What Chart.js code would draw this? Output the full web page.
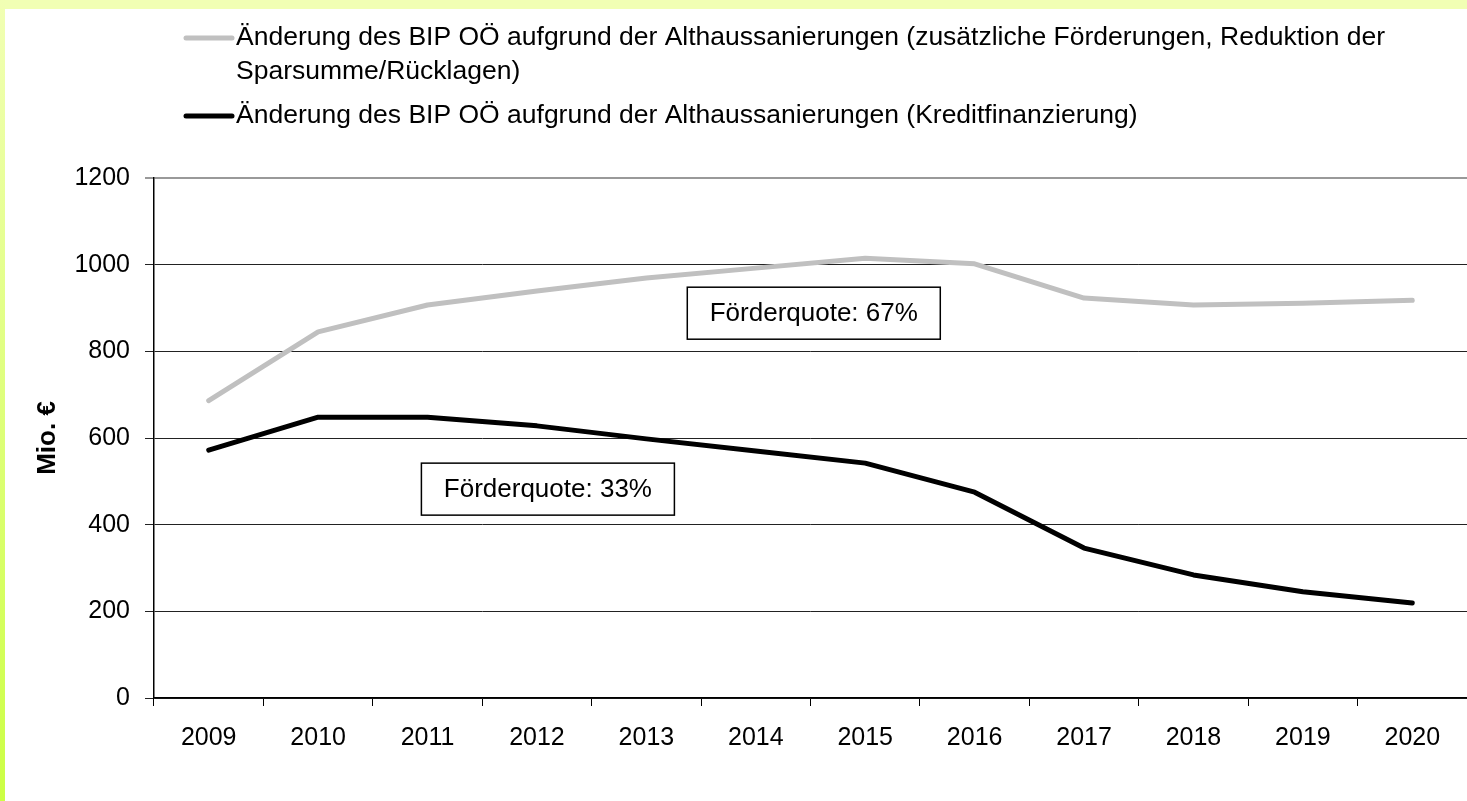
<!DOCTYPE html>
<html>
<head>
<meta charset="utf-8">
<title>BIP OÖ – Althaussanierungen</title>
<script src="https://cdn.jsdelivr.net/npm/chart.js@4.4.0/dist/chart.umd.min.js"></script>
<style>
    html, body { margin: 0; padding: 0; width: 1467px; height: 801px; overflow: hidden; background: #fff; }
    .band-top { position: absolute; left: 0; top: 0; width: 1467px; height: 9px; background: #f1ffb4; }
    .band-left { position: absolute; left: 0; top: 0; width: 5px; height: 801px; background: linear-gradient(#f1ffb4, #ccff44); }
    .wrap { position: absolute; left: 0; top: 0; width: 1467px; height: 801px; }
</style>
</head>
<body>
<div class="band-top"></div>
<div class="band-left"></div>
<div class="wrap"><canvas id="chart"></canvas></div>
<script>
    "use strict";

    // Data
    const years = ["2009", "2010", "2011", "2012", "2013", "2014", "2015", "2016", "2017", "2018", "2019", "2020"];
    const bipFoerderung = [686, 845, 907, 939, 969, 992, 1015, 1002, 923, 907, 911, 918];
    const bipKredit = [572, 648, 648, 628, 598, 570, 542, 475, 346, 284, 245, 219];
    const yTicks = [0, 200, 400, 600, 800, 1000, 1200];
    const seriesLabels = [
        "Änderung des BIP OÖ aufgrund der Althaussanierungen (zusätzliche Förderungen, Reduktion der Sparsumme/Rücklagen)",
        "Änderung des BIP OÖ aufgrund der Althaussanierungen (Kreditfinanzierung)",
    ];
    const yTitle = "Mio. €";
    // notes placed in data units (category index, value)
    const notes = [
        { text: "Förderquote: 67%", x: 5.53, y: 888 },
        { text: "Förderquote: 33%", x: 3.1, y: 482 },
    ];

    const FONT = "'Liberation Sans', Arial, sans-serif";

    // legend drawn at the top, with wrapping
    const topLegend = {
        id: "topLegend",
        afterDraw(chart) {
            const ctx = chart.ctx;
            ctx.save();
            ctx.font = "26.5px " + FONT;
            ctx.textBaseline = "middle";
            ctx.fillStyle = "#000";
            const textX = 236;
            const maxW = 1190;
            let y = 38;
            chart.data.datasets.forEach((ds) => {
                ctx.strokeStyle = ds.borderColor;
                ctx.lineWidth = 5;
                ctx.lineCap = "round";
                ctx.beginPath();
                ctx.moveTo(186, y);
                ctx.lineTo(232, y);
                ctx.stroke();
                const words = ds.label.split(" ");
                let line = "";
                const lines = [];
                words.forEach((w) => {
                    const test = line ? line + " " + w : w;
                    if (ctx.measureText(test).width > maxW && line) {
                        lines.push(line);
                        line = w;
                    } else {
                        line = test;
                    }
                });
                lines.push(line);
                lines.forEach((l, i) => {
                    ctx.fillText(l, textX, y + i * 34);
                });
                y += (lines.length - 1) * 34 + 44;
            });
            ctx.restore();
        },
    };

    // boxed notes
    const boxNotes = {
        id: "boxNotes",
        afterDatasetsDraw(chart) {
            const ctx = chart.ctx;
            const xs = chart.scales.x;
            const ys = chart.scales.y;
            ctx.save();
            ctx.font = "26px " + FONT;
            ctx.textAlign = "center";
            ctx.textBaseline = "middle";
            notes.forEach((n) => {
                const cx = xs.getPixelForValue(n.x);
                const cy = ys.getPixelForValue(n.y);
                const w = 253, h = 52;
                ctx.fillStyle = "#fff";
                ctx.fillRect(cx - w / 2, cy - h / 2, w, h);
                ctx.strokeStyle = "#000";
                ctx.lineWidth = 1.5;
                ctx.strokeRect(cx - w / 2, cy - h / 2, w, h);
                ctx.fillStyle = "#000";
                ctx.fillText(n.text, cx, cy + 1);
            });
            ctx.restore();
        },
    };

    const ctx = document.getElementById("chart").getContext("2d");

    new Chart(ctx, {
        type: "line",
        data: {
            labels: years,
            datasets: [
                {
                    label: seriesLabels[0],
                    data: bipFoerderung,
                    borderColor: "#c0c0c0",
                    borderWidth: 5,
                    borderCapStyle: "round",
                    borderJoinStyle: "round",
                    pointRadius: 0,
                    tension: 0,
                },
                {
                    label: seriesLabels[1],
                    data: bipKredit,
                    borderColor: "#000",
                    borderWidth: 5,
                    borderCapStyle: "round",
                    borderJoinStyle: "round",
                    pointRadius: 0,
                    tension: 0,
                },
            ],
        },
        options: {
            responsive: true,
            maintainAspectRatio: false,
            animation: false,
            layout: {
                padding: { top: 178, left: 0, right: 0, bottom: 0 },
            },
            plugins: {
                legend: { display: false },
                tooltip: { enabled: false },
            },
            scales: {
                x: {
                    offset: true,
                    afterFit: (scale) => { scale.height = 103; },
                    grid: {
                        offset: true,
                        drawOnChartArea: false,
                        drawTicks: true,
                        tickLength: 8,
                        color: "#000",
                    },
                    border: { display: true, color: "#000", width: 1.5 },
                    ticks: {
                        color: "#000",
                        padding: 17,
                        maxRotation: 0,
                        autoSkip: false,
                        font: { family: FONT, size: 25 },
                    },
                },
                y: {
                    min: yTicks[0],
                    max: yTicks[yTicks.length - 1],
                    afterFit: (scale) => { scale.width = 154; },
                    afterBuildTicks: (scale) => {
                        scale.ticks = yTicks.map((v) => ({ value: v }));
                    },
                    grid: {
                        color: (c) => (c.tick && c.tick.value === 1200 ? "#999" : "#222"),
                        lineWidth: (c) => (c.tick && c.tick.value === 1200 ? 2 : 1),
                        tickLength: 9,
                    },
                    border: { display: true, color: "#000", width: 1.5 },
                    ticks: {
                        color: "#000",
                        padding: 15,
                        font: { family: FONT, size: 25 },
                        callback: (value) => String(value),
                    },
                    title: {
                        display: true,
                        text: yTitle,
                        color: "#000",
                        padding: { top: 32, bottom: 0 },
                        font: { family: FONT, size: 26, weight: "bold" },
                    },
                },
            },
        },
        plugins: [topLegend, boxNotes],
    });
</script>
</body>
</html>
